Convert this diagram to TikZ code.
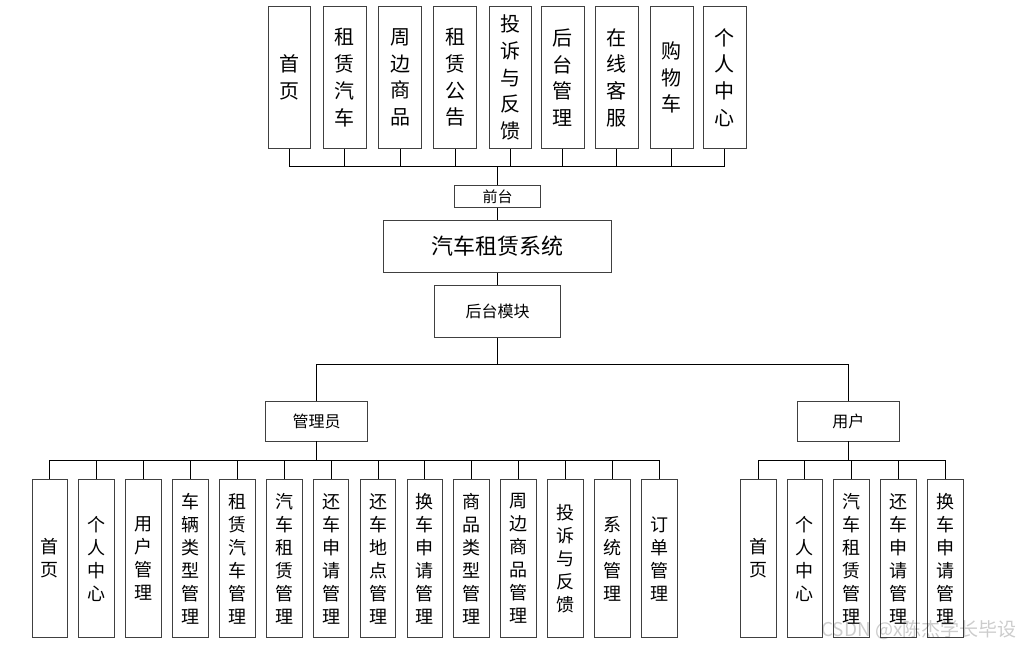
\documentclass[tikz,border=0pt]{standalone}
\usepackage{fontspec}
\setmainfont{Noto Sans CJK SC}
\usepackage{tikz}

\begin{document}
\begin{tikzpicture}[x=1pt, y=-1pt,
        topbox/.style = {draw=black!75, line width=0.9pt, fill=white, minimum width=42.5pt, minimum height=141.6pt, inner sep=0pt, align=center, font=\fontsize{20}{26.7}\selectfont},
        subbox/.style = {draw=black!75, line width=0.9pt, fill=white, minimum width=35.6pt, minimum height=158pt, inner sep=0pt, align=center, font=\fontsize{18}{23}\selectfont},
        midbox/.style = {draw=black!75, line width=0.9pt, fill=white, inner sep=0pt, font=\fontsize{16}{19}\selectfont},
        link/.style = {line width=0.8pt}]
        \useasboundingbox (0,0) rectangle (1023,649);

        \node[topbox] (t1) at (289.5,77.5) {首\\页};
        \node[topbox] (t2) at (344.7,77.5) {租\\赁\\汽\\车};
        \node[topbox] (t3) at (400,77.5) {周\\边\\商\\品};
        \node[topbox] (t4) at (455,77.5) {租\\赁\\公\\告};
        \node[topbox] (t5) at (510.2,77.5) {投\\诉\\与\\反\\馈};
        \node[topbox] (t6) at (562.8,77.5) {后\\台\\管\\理};
        \node[topbox] (t7) at (616.7,77.5) {在\\线\\客\\服};
        \node[topbox] (t8) at (671.8,77.5) {购\\物\\车};
        \node[topbox] (t9) at (724.7,77.5) {个\\人\\中\\心};

        \node[midbox, minimum width=85.7pt, minimum height=22.7pt, font=\fontsize{15}{18}\selectfont] (qt) at (497.5,196.3) {前台};
        \node[midbox, minimum width=228pt, minimum height=51.6pt, font=\fontsize{22}{26}\selectfont] (sys) at (497.5,246.5) {汽车租赁系统};
        \node[midbox, minimum width=126.4pt, minimum height=52.4pt] (ht) at (497.5,311.5) {后台模块};
        \node[midbox, minimum width=101.6pt, minimum height=40pt] (gly) at (316.6,421) {管理员};
        \node[midbox, minimum width=102pt, minimum height=39.3pt] (yh) at (848.3,421.3) {用户};

        \node[subbox] (a1) at (49.8,558.6) {首\\页};
        \node[subbox] (a2) at (96.7,558.6) {个\\人\\中\\心};
        \node[subbox] (a3) at (143.6,558.6) {用\\户\\管\\理};
        \node[subbox] (a4) at (190.4,558.6) {车\\辆\\类\\型\\管\\理};
        \node[subbox] (a5) at (237.3,558.6) {租\\赁\\汽\\车\\管\\理};
        \node[subbox] (a6) at (284.2,558.6) {汽\\车\\租\\赁\\管\\理};
        \node[subbox] (a7) at (331.1,558.6) {还\\车\\申\\请\\管\\理};
        \node[subbox] (a8) at (378,558.6) {还\\车\\地\\点\\管\\理};
        \node[subbox] (a9) at (424.8,558.6) {换\\车\\申\\请\\管\\理};
        \node[subbox] (a10) at (471.7,558.6) {商\\品\\类\\型\\管\\理};
        \node[subbox] (a11) at (518.6,558.6) {周\\边\\商\\品\\管\\理};
        \node[subbox] (a12) at (565.5,558.6) {投\\诉\\与\\反\\馈};
        \node[subbox] (a13) at (612.4,558.6) {系\\统\\管\\理};
        \node[subbox] (a14) at (659.2,558.6) {订\\单\\管\\理};

        \node[subbox] (u1) at (758.3,558.6) {首\\页};
        \node[subbox] (u2) at (804.8,558.6) {个\\人\\中\\心};
        \node[subbox] (u3) at (851.5,558.6) {汽\\车\\租\\赁\\管\\理};
        \node[subbox] (u4) at (898.5,558.6) {还\\车\\申\\请\\管\\理};
        \node[subbox] (u5) at (945.2,558.6) {换\\车\\申\\请\\管\\理};

        \coordinate (topbus) at (497.5,166.7);
        \coordinate (midbus) at (497.5,364.3);
        \coordinate (admbus) at (316.6,460.5);
        \coordinate (usrbus) at (848.3,460.5);

        \foreach \i in {1,...,9}
            \draw[link] (t\i.south) |- (topbus);
        \draw[link] (topbus) -- (qt.north);
        \draw[link] (qt.south) -- (sys.north);
        \draw[link] (sys.south) -- (ht.north);
        \draw[link] (ht.south) -- (midbus);
        \draw[link] (midbus) -| (gly.north);
        \draw[link] (midbus) -| (yh.north);

        \draw[link] (gly.south) -- (admbus);
        \foreach \i in {1,...,14}
            \draw[link] (admbus) -| (a\i.north);
        \draw[link] (yh.south) -- (usrbus);
        \foreach \i in {1,...,5}
            \draw[link] (usrbus) -| (u\i.north);

        \node[font=\fontsize{19}{22}\selectfont, text=black, opacity=0.2] (wm) at (919,630) {CSDN @x陈杰学长毕设};
    \end{tikzpicture}
\end{document}
